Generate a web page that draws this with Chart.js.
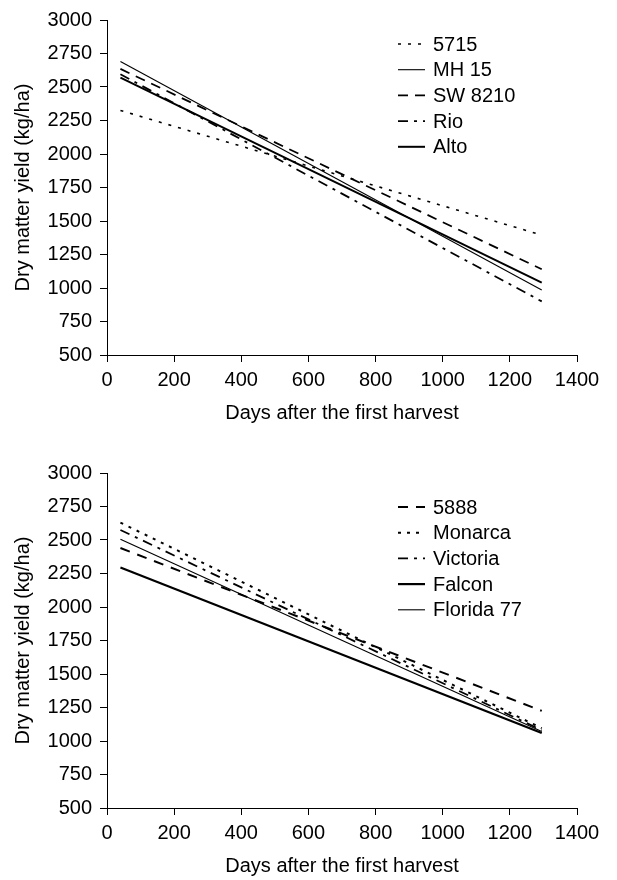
<!DOCTYPE html>
<html>
<head>
<meta charset="utf-8">
<script src="https://cdn.jsdelivr.net/npm/chart.js@4.4.0/dist/chart.umd.min.js"></script>
<style>
  html, body { margin: 0; padding: 0; background: #fff; }
  .box { position: absolute; left: 0; width: 617px; height: 440px; }
  #top { top: 0; }
  #bottom { top: 440px; }
</style>
</head>
<body>
<div class="box" id="top"><canvas id="chartTop"></canvas></div>
<div class="box" id="bottom"><canvas id="chartBottom"></canvas></div>
<script>
// fitted lines: value at first and last day
const days = [40, 1295];

// upper panel
const topNames = ['5715', 'MH 15', 'SW 8210', 'Rio', 'Alto'];
const y5715 = [2325, 1395];
const yMH15 = [2690, 985];
const ySW8210 = [2635, 1140];
const yRio = [2595, 900];
const yAlto = [2570, 1040];

// lower panel
const bottomNames = ['5888', 'Monarca', 'Victoria', 'Falcon', 'Florida 77'];
const y5888 = [2440, 1225];
const yMonarca = [2630, 1095];
const yVictoria = [2575, 1080];
const yFalcon = [2295, 1060];
const yFlorida77 = [2505, 1070];

const FONT = '"Liberation Sans", Arial, sans-serif';
const FS = 20;

// line looks, in legend order
const topStyles = [
  { width: 1.6, dash: [3, 7] },        // dotted
  { width: 1.1, dash: [] },            // thin solid
  { width: 1.8, dash: [10, 7] },       // dashed
  { width: 1.8, dash: [10, 6, 3, 6] }, // dash-dot
  { width: 2.0, dash: [] }             // thick solid
];
const bottomStyles = [
  { width: 2.0, dash: [10, 8] },
  { width: 2.0, dash: [3, 6] },
  { width: 1.8, dash: [10, 6, 3, 6] },
  { width: 2.2, dash: [] },
  { width: 1.1, dash: [] }
];

function toPoints(vals) {
  return days.map((d, i) => ({ x: d, y: vals[i] }));
}

function makeSets(names, series, styles) {
  return names.map((name, i) => ({
    label: name,
    data: toPoints(series[i]),
    borderColor: '#000',
    borderWidth: styles[i].width,
    borderDash: styles[i].dash,
    pointRadius: 0,
    fill: false
  }));
}

// legend drawn inside the plot, top right
const insetLegend = {
  id: 'insetLegend',
  afterDraw(chart, args, opts) {
    const ctx = chart.ctx;
    ctx.save();
    ctx.font = FS + 'px ' + FONT;
    ctx.textBaseline = 'middle';
    ctx.fillStyle = '#000';
    ctx.strokeStyle = '#000';
    chart.data.datasets.forEach((ds, i) => {
      const y = opts.y + i * opts.gap;
      ctx.beginPath();
      ctx.lineWidth = ds.borderWidth;
      ctx.setLineDash(ds.borderDash);
      ctx.moveTo(opts.x, y);
      ctx.lineTo(opts.x + 27, y);
      ctx.stroke();
      ctx.fillText(ds.label, opts.x + 35, y + 1);
    });
    ctx.restore();
  }
};

function buildChart(id, sets, pad, xHeight, legendY) {
  return new Chart(document.getElementById(id), {
    type: 'line',
    data: { datasets: sets },
    plugins: [insetLegend],
    options: {
      responsive: true,
      maintainAspectRatio: false,
      animation: false,
      layout: { padding: pad },
      plugins: {
        legend: { display: false },
        tooltip: { enabled: false },
        insetLegend: { x: 398, y: legendY, gap: 25.7 }
      },
      scales: {
        x: {
          type: 'linear',
          min: 0,
          max: 1400,
          afterFit: (s) => { s.height = xHeight; },
          ticks: {
            stepSize: 200,
            color: '#000',
            font: { family: FONT, size: FS },
            padding: 6,
            callback: (v) => String(v)
          },
          grid: { drawOnChartArea: false, tickLength: 7, color: '#000' },
          border: { color: '#000', width: 1 },
          title: {
            display: true,
            text: 'Days after the first harvest',
            color: '#000',
            font: { family: FONT, size: FS },
            padding: { top: 0, bottom: 0 }
          }
        },
        y: {
          min: 500,
          max: 3000,
          afterFit: (s) => { s.width = 107; },
          ticks: {
            stepSize: 250,
            color: '#000',
            font: { family: FONT, size: FS },
            padding: 8,
            callback: (v) => String(v)
          },
          grid: { drawOnChartArea: false, tickLength: 7, color: '#000' },
          border: { color: '#000', width: 1 },
          title: {
            display: true,
            text: 'Dry matter yield (kg/ha)',
            color: '#000',
            font: { family: FONT, size: FS },
            padding: { top: 11, bottom: 0 }
          }
        }
      }
    }
  });
}

buildChart('chartTop',
  makeSets(topNames, [y5715, yMH15, ySW8210, yRio, yAlto], topStyles),
  { top: 20, right: 40, bottom: 15, left: 0 }, 70, 44);

buildChart('chartBottom',
  makeSets(bottomNames, [y5888, yMonarca, yVictoria, yFalcon, yFlorida77], bottomStyles),
  { top: 33, right: 40, bottom: 2, left: 0 }, 70, 67);
</script>
</body>
</html>
